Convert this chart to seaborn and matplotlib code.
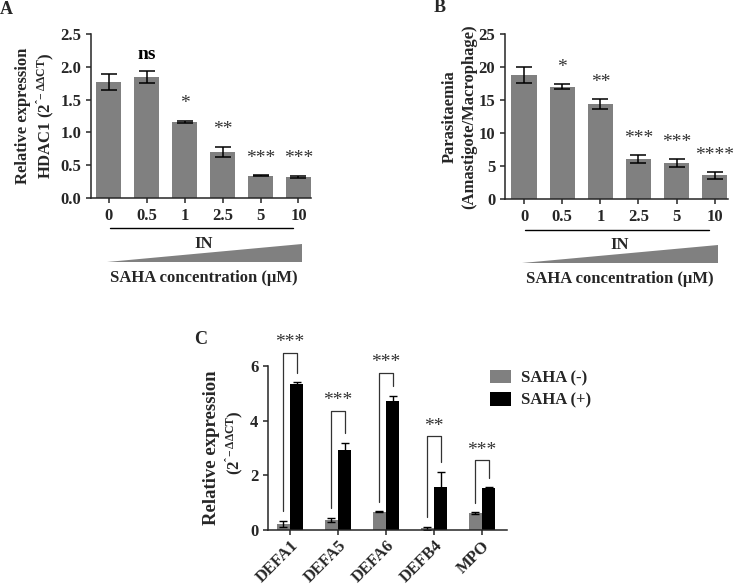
import matplotlib
matplotlib.use("Agg")
import matplotlib.pyplot as plt
import matplotlib.transforms as mtransforms
from matplotlib.patches import Polygon
import seaborn as sns
import pandas as pd

# ---- data ----
conc_labels = ["0", "0.5", "1", "2.5", "5", "10"]

hdac1_mean = [1.77, 1.84, 1.16, 0.70, 0.34, 0.32]
hdac1_err = [0.12, 0.09, 0.02, 0.08, 0.01, 0.02]
hdac1_sig = ["", "ns", "*", "**", "***", "***"]

para_mean = [18.8, 17.0, 14.4, 6.1, 5.5, 3.6]
para_err = [1.2, 0.4, 0.8, 0.6, 0.6, 0.5]
para_sig = ["", "*", "**", "***", "***", "****"]

genes = ["DEFA1", "DEFA5", "DEFA6", "DEFB4", "MPO"]
saha_minus = [0.22, 0.38, 0.67, 0.06, 0.62]
saha_minus_err = [0.12, 0.07, 0.02, 0.06, 0.03]
saha_plus = [5.33, 2.92, 4.73, 1.58, 1.52]
saha_plus_err = [0.07, 0.28, 0.18, 0.55, 0.05]
bracket_top = [6.49, 4.37, 5.76, 3.44, 2.56]
gene_sig = ["***", "***", "***", "**", "***"]

GRAY = "#808080"
SERIF = ["Liberation Serif", "DejaVu Serif"]

sns.set_style("ticks")
plt.rcParams["font.family"] = SERIF
plt.rcParams["font.weight"] = "bold"
plt.rcParams["mathtext.fontset"] = "custom"
plt.rcParams["mathtext.rm"] = "Liberation Serif:bold"
plt.rcParams["mathtext.it"] = "Liberation Serif:bold"
plt.rcParams["mathtext.bf"] = "Liberation Serif:bold"
plt.rcParams["axes.linewidth"] = 1.1
plt.rcParams["xtick.major.width"] = 1.1
plt.rcParams["ytick.major.width"] = 1.1
plt.rcParams["xtick.major.size"] = 3.5
plt.rcParams["ytick.major.size"] = 3.5

FS = 12
SUP = "(2$^{\u02c6\\!-\\Delta\\Delta CT}$)"

fig = plt.figure(figsize=(7.35, 5.85), dpi=100)


def bold_ticks(ax):
    for t in ax.get_xticklabels() + ax.get_yticklabels():
        t.set_fontweight("bold")
        t.set_fontsize(FS)


def dose_panel(ax, means, errs, sigs, ylim, yticks, ylabel, label_x, sig_off, xlim):
    df = pd.DataFrame({"conc": conc_labels, "val": means})
    sns.barplot(data=df, x="conc", y="val", order=conc_labels, color=GRAY,
                saturation=1, width=0.66, errorbar=None, linewidth=0, ax=ax)
    xs = [p.get_x() + p.get_width() / 2 for p in ax.containers[0]]
    ax.errorbar(xs, means, yerr=errs, fmt="none", ecolor="black",
                elinewidth=1.1, capsize=5.5, capthick=1.1)
    for x, m, e, s in zip(xs, means, errs, sigs):
        if s:
            color = "black" if s == "ns" else "#333333"
            weight = "bold" if s == "ns" else "normal"
            ax.text(x, m + e + sig_off, s, ha="center", va="bottom",
                    fontsize=FS + 2, color=color, fontweight=weight)
    ax.set_xlim(*xlim)
    ax.set_ylim(*ylim)
    ax.set_yticks(yticks)
    ax.set_xlabel("")
    ax.set_ylabel("")
    bold_ticks(ax)
    ax.text(label_x, 0.5, ylabel, transform=ax.transAxes, rotation=90,
            ha="center", va="center", fontsize=FS, fontweight="bold",
            linespacing=1.25)
    sns.despine(ax=ax)

    # treatment annotation under the x axis
    tr = mtransforms.blended_transform_factory(ax.transData, ax.transAxes)
    ax.plot([0.02, 4.86], [-0.185, -0.185], color="black", lw=1.0,
            transform=tr, clip_on=False)
    ax.text(2.5, -0.28, "IN", transform=tr, ha="center", va="center",
            fontsize=FS, fontweight="bold")
    tri = Polygon([[-0.06, -0.39], [5.08, -0.39], [5.08, -0.28]],
                  closed=True, facecolor=GRAY, edgecolor="none",
                  transform=tr, clip_on=False)
    ax.add_patch(tri)
    ax.text(2.5, -0.485, "SAHA concentration (\u03bcM)", transform=tr,
            ha="center", va="center", fontsize=FS, fontweight="bold")


# ---- panel A ----
axA = fig.add_axes([0.1238, 0.6615, 0.2993, 0.2804])
dose_panel(axA, hdac1_mean, hdac1_err, hdac1_sig, (0, 2.5),
           [0, 0.5, 1.0, 1.5, 2.0, 2.5],
           "Relative expression\nHDAC1 " + SUP,
           -0.25, 0.13, (-0.475, 5.33))
axA.set_yticklabels(["0.0", "0.5", "1.0", "1.5", "2.0", "2.5"])
bold_ticks(axA)

# ---- panel B ----
axB = fig.add_axes([0.6871, 0.6598, 0.3034, 0.2821])
dose_panel(axB, para_mean, para_err, para_sig, (0, 25),
           [0, 5, 10, 15, 20, 25],
           "Parasitaemia\n(Amastigote/Macrophage)",
           -0.205, 1.2, (-0.5, 5.35))

# ---- panel C ----
axC = fig.add_axes([0.3646, 0.0940, 0.3252, 0.2803])
dfC = pd.DataFrame({
    "gene": genes * 2,
    "val": saha_minus + saha_plus,
    "group": ["SAHA (-)"] * len(genes) + ["SAHA (+)"] * len(genes),
})
sns.barplot(data=dfC, x="gene", y="val", hue="group", order=genes,
            palette=[GRAY, "black"], saturation=1, width=0.56,
            errorbar=None, linewidth=0, ax=axC)
x_minus = [p.get_x() + p.get_width() / 2 for p in axC.containers[0]]
x_plus = [p.get_x() + p.get_width() / 2 for p in axC.containers[1]]
axC.errorbar(x_minus, saha_minus, yerr=saha_minus_err, fmt="none",
             ecolor="black", elinewidth=1.0, capsize=3, capthick=1.0)
axC.errorbar(x_plus, saha_plus, yerr=saha_plus_err, fmt="none",
             ecolor="black", elinewidth=1.0, capsize=3, capthick=1.0)

for i in range(len(genes)):
    y1 = saha_minus[i] + saha_minus_err[i] + 0.35
    y2 = saha_plus[i] + saha_plus_err[i] + 0.35
    top = bracket_top[i]
    axC.plot([x_minus[i], x_minus[i], x_plus[i], x_plus[i]], [y1, top, top, y2],
             color="#333333", lw=0.9, clip_on=False)
    axC.text((x_minus[i] + x_plus[i]) / 2, top + 0.05, gene_sig[i],
             ha="center", va="bottom", fontsize=FS + 2, color="#333333",
             fontweight="normal")

axC.set_xlim(-0.46, 4.52)
axC.set_ylim(0, 6)
axC.set_yticks([0, 2, 4, 6])
axC.set_xlabel("")
axC.set_ylabel("")
bold_ticks(axC)
axC.tick_params(axis="x", pad=2)
plt.setp(axC.get_xticklabels(), rotation=45, ha="right", rotation_mode="anchor")
axC.text(-0.236, 0.5, "Relative expression", transform=axC.transAxes,
         rotation=90, ha="center", va="center", fontsize=FS + 1.5,
         fontweight="bold")
axC.text(-0.14, 0.53, SUP, transform=axC.transAxes,
         rotation=90, ha="center", va="center", fontsize=FS,
         fontweight="bold")
sns.despine(ax=axC)
sns.move_legend(axC, "upper left", bbox_to_anchor=(0.865, 1.07), frameon=False,
                title=None, fontsize=FS, handlelength=1.3, handleheight=0.9,
                handletextpad=0.6, labelspacing=0.35)
for t in axC.get_legend().get_texts():
    t.set_fontweight("bold")

# panel letters
fig.text(6.5 / 735, 1 - 10 / 585, "A", ha="center", va="center", fontsize=13,
         fontweight="bold")
fig.text(440 / 735, 1 - 8 / 585, "B", ha="center", va="center", fontsize=13,
         fontweight="bold")
fig.text(200.7 / 735, 1 - 340 / 585, "C", ha="center", va="center", fontsize=13,
         fontweight="bold")

fig.savefig("out.png", dpi=100)
